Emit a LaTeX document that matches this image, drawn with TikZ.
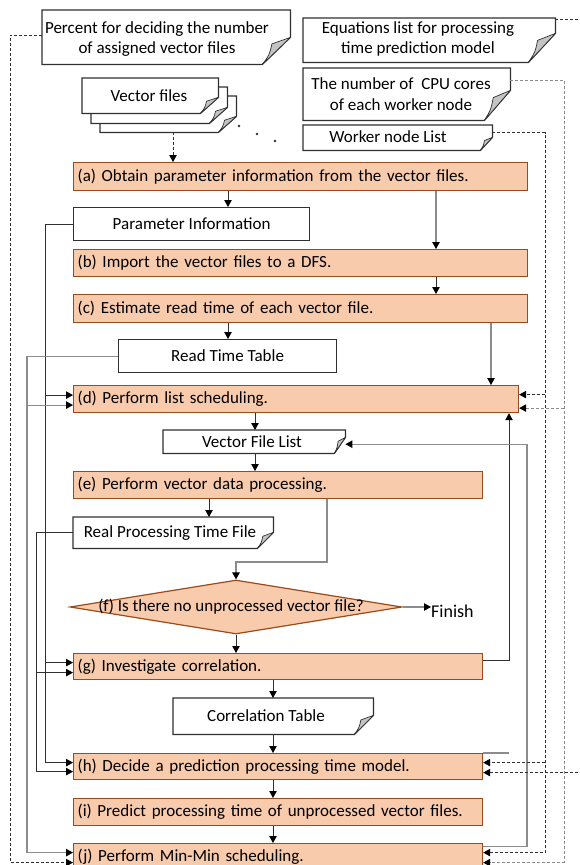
\documentclass[tikz,border=0pt]{standalone}
\usepackage{fontspec}
\setmainfont{Carlito}
\usetikzlibrary{arrows.meta,shapes.geometric}

\definecolor{procfill}{HTML}{F8CBAD}
\definecolor{procedge}{HTML}{9C4A1A}
\definecolor{inkdark}{HTML}{303030}
\definecolor{inkgray}{HTML}{8C8C8C}
\definecolor{foldgray}{HTML}{C4C4C4}

\tikzset{
  lbl/.style={font=\fontsize{17}{20.5}\selectfont, inner sep=0pt, align=center},
  proc/.style={draw=procedge, fill=procfill, line width=1.2pt, inner xsep=4pt,
    inner ysep=0pt, anchor=north west, align=left, font=\fontsize{17}{20.5}\selectfont},
  databox/.style={draw=inkdark, fill=white, line width=1.2pt, anchor=north west,
    inner sep=0pt, align=center, font=\fontsize{17}{20.5}\selectfont},
  docarea/.style={anchor=north west, inner sep=0pt},
  docline/.style={draw=inkdark, fill=white, line width=1.2pt, line join=miter},
  foldpart/.style={draw=inkdark, fill=foldgray, line width=0.7pt, line join=round},
  tipend/.style={-{Triangle[length=7pt,width=7.5pt,color=black,fill=black]}},
  flow/.style={draw=inkdark, line width=0.9pt, tipend},
  flowgray/.style={draw=inkgray, line width=1.1pt, tipend},
  wire/.style={draw=inkdark, line width=0.9pt},
  wiregray/.style={draw=inkgray, line width=1.1pt},
  dep/.style={draw=inkdark, line width=0.8pt, dash pattern=on 3pt off 2pt, tipend},
  depgray/.style={draw=inkgray, line width=0.8pt, dash pattern=on 3pt off 2pt, tipend},
}

% document outline with a folded lower right corner, drawn round an area node
\newcommand\docoutline[3]{%
  \path[docline] (#1.north west) -- (#1.north east) -- ([yshift=#3]#1.south east)
    -- ([xshift=-#2]#1.south east) -- (#1.south west) -- cycle;
  \path[foldpart] ([xshift=-#2]#1.south east)
    .. controls ([xshift={-0.75*#2}, yshift={0.35*#3}]#1.south east) ..
    ([xshift={-0.66*#2}, yshift={0.76*#3}]#1.south east)
    -- ([yshift=#3]#1.south east) -- cycle;
}

\begin{document}
\begin{tikzpicture}[x=1pt,y=-1pt]
\useasboundingbox (0,0) rectangle (579,865);
\clip (0,0) rectangle (579,865);

% ---------- input documents ----------
\node[docarea, minimum width=248pt, minimum height=54pt] (pct) at (42,10) {};
\docoutline{pct}{28pt}{27pt}
\node[lbl] (pct-t) at (157,39) {Percent for deciding the number\\of assigned vector files};

\node[docarea, minimum width=252pt, minimum height=44pt] (eq) at (303,18) {};
\docoutline{eq}{27pt}{29pt}
\node[lbl] (eq-t) at (418,39) {Equations list for processing\\time prediction model};

\node[docarea, minimum width=207pt, minimum height=52pt] (cpu) at (303,68) {};
\docoutline{cpu}{26pt}{30pt}
\node[lbl] (cpu-t) at (401,94) {The number of\ \ CPU cores\\of each worker node};

\node[docarea, minimum width=189pt, minimum height=25pt] (wnl) at (303,125) {};
\docoutline{wnl}{12pt}{13pt}
\node[lbl] (wnl-t) at (388,137) {Worker node List};

% stack of vector files
\node[docarea, minimum width=136pt, minimum height=36pt] (vf3) at (100,96) {};
\docoutline{vf3}{18pt}{16pt}
\node[docarea, minimum width=136pt, minimum height=36pt] (vf2) at (91,87) {};
\docoutline{vf2}{18pt}{16pt}
\node[docarea, minimum width=136pt, minimum height=35pt] (vf) at (82,78) {};
\docoutline{vf}{18pt}{16pt}
\node[lbl] (vf-t) at (149,96) {Vector files};
\fill[inkdark] (239,126) circle (1.3pt) (257,134) circle (1.3pt) (275,141) circle (1.3pt);

% ---------- process steps ----------
\node[proc, text width=446pt, minimum height=28pt] (a) at (73,162)
  {(a) Obtain parameter information from the vector files.};
\node[databox, minimum width=236pt, minimum height=33pt] (pinfo) at (73,207) {Parameter Information};
\node[proc, text width=446pt, minimum height=27pt] (b) at (73,249)
  {(b) Import the vector files to a DFS.};
\node[proc, text width=446pt, minimum height=28pt] (c) at (73,294)
  {(c) Estimate read time of each vector file.};
\node[databox, minimum width=218pt, minimum height=33pt] (rtt) at (118,339) {Read Time Table};
\node[proc, text width=437pt, minimum height=27pt] (d) at (73,385)
  {(d) Perform list scheduling.};

\node[docarea, minimum width=182pt, minimum height=23pt] (vfl) at (163,430) {};
\docoutline{vfl}{11pt}{16pt}
\node[lbl] (vfl-t) at (252,442) {Vector File List};

\node[proc, text width=401pt, minimum height=27pt] (e) at (73,471)
  {(e) Perform vector data processing.};

\node[docarea, minimum width=200pt, minimum height=31pt] (rptf) at (73,517) {};
\docoutline{rptf}{16pt}{16pt}
\node[lbl] (rptf-t) at (170,533) {Real Processing Time File};

\node[diamond, draw=procedge, fill=procfill, line width=1.2pt, inner sep=0pt,
  minimum width=332pt, minimum height=54pt] (f) at (236,607) {};
\node[lbl] (f-t) at (231,607) {(f) Is there no unprocessed vector file?};
\node[lbl, anchor=west, font=\fontsize{18}{21}\selectfont] (fin) at (431,611) {Finish};

\node[proc, text width=401pt, minimum height=26pt] (g) at (73,653)
  {(g) Investigate correlation.};

\node[docarea, minimum width=200pt, minimum height=36pt] (ct) at (173,698) {};
\docoutline{ct}{19pt}{19pt}
\node[lbl] (ct-t) at (266,716) {Correlation Table};

\node[proc, text width=401pt, minimum height=26pt] (h) at (73,753)
  {(h) Decide a prediction processing time model.};
\node[proc, text width=401pt, minimum height=27pt] (i) at (73,798)
  {(i) Predict processing time of unprocessed vector files.};
\node[proc, text width=401pt, minimum height=27pt] (j) at (73,843)
  {(j) Perform Min-Min scheduling.};

% ---------- columns used by the connectors ----------
\coordinate (k173) at (173,0);
\coordinate (k209) at (209,0);
\coordinate (k228) at (228,0);
\coordinate (k255) at (255,0);
\coordinate (k273) at (273,0);
\coordinate (k327) at (327,0);
\coordinate (k436) at (436,0);
\coordinate (k491) at (491,0);
\coordinate (kP) at (45,0);
\coordinate (kT) at (36,0);
\coordinate (kR) at (27,0);
\coordinate (kD) at (10,0);
\coordinate (kL1) at (509,0);
\coordinate (kL2) at (527,0);
\coordinate (kW) at (545,0);
\coordinate (kC) at (564,0);
\coordinate (kE) at (600,0);
\coordinate (ef) at (236,562);

% entry points on the step boxes
\coordinate (dP) at ([yshift=4pt]d.west);
\coordinate (dR) at ([yshift=-6pt]d.west);
\coordinate (gP) at ([yshift=4pt]g.west);
\coordinate (gT) at ([yshift=-6pt]g.west);
\coordinate (hP) at ([yshift=4pt]h.west);
\coordinate (hT) at ([yshift=-5pt]h.west);
\coordinate (jR) at ([yshift=4.5pt]j.west);
\coordinate (jD) at ([yshift=-5.5pt]j.west);
\coordinate (dW) at ([yshift=4.5pt]d.east);
\coordinate (dC) at ([yshift=-9pt]d.east);
\coordinate (hW) at ([yshift=4pt]h.east);
\coordinate (hE) at ([yshift=-6pt]h.east);
\coordinate (jW) at ([yshift=4.5pt]j.east);
\coordinate (jC) at ([yshift=-5.5pt]j.east);
\coordinate (vflin) at ([yshift=-2.5pt]vfl.east);

% ---------- main flow ----------
\draw[dep] (vf3.south -| k173) -- (a.north -| k173);
\draw[flow] (a.south -| k228) -- (pinfo.north -| k228);
\draw[flowgray] (a.south -| k436) -- (b.north -| k436);
\draw[flow] (b.south -| k436) -- (c.north -| k436);
\draw[flow] (c.south -| k228) -- (rtt.north -| k228);
\draw[flowgray] (c.south -| k491) -- (d.north -| k491);
\draw[flow] (d.south -| k255) -- (vfl.north -| k255);
\draw[flow] (vfl.south -| k255) -- (e.north -| k255);
\draw[flow] (e.south -| k209) -- (rptf.north -| k209);
\draw[flowgray] (e.south -| k327) |- (ef) -- (f.north);
\draw[flowgray] (f.east) -- (f.east -| fin.west);
\draw[flow] (f.south) -- (f.south |- g.north);
\draw[flow] (g.south -| k273) -- (ct.north -| k273);
\draw[flow] (ct.south -| k273) -- (h.north -| k273);
\draw[flow] (h.south -| k273) -- (i.north -| k273);
\draw[flow] (i.south -| k273) -- (j.north -| k273);

% ---------- feedback on the left ----------
\draw[flow] (pinfo.west) -| (kP |- hP) -- (hP);
\draw[flow] (kP |- dP) -- (dP);
\draw[flow] (kP |- gP) -- (gP);
\draw[flowgray] (rtt.west) -| (kR |- jR) -- (jR);
\draw[flowgray] (kR |- dR) -- (dR);
\draw[flow] (rptf.west) -| (kT |- hT) -- (hT);
\draw[flow] (kT |- gT) -- (gT);
\draw[dep] ([yshift=2pt]pct.west) -| (kD |- jD) -- (jD);

% ---------- loops and inputs on the right ----------
\draw[flow] ([yshift=6pt]g.east) -| (d.south -| kL1);
\draw[flowgray] ([yshift=10.5pt]j.east) -| (kL2 |- vflin) -- (vflin);
\draw[wiregray] (h.north east) -- (h.north east -| kL1);

\draw[dep] ([yshift=5pt]wnl.east) -| (kW |- jW) -- (jW);
\draw[dep] (kW |- dW) -- (dW);
\draw[dep] (kW |- hW) -- (hW);
\draw[depgray] ([yshift=-12pt]cpu.north east) -| (kC |- jC) -- (jC);
\draw[depgray] (kC |- dC) -- (dC);
\draw[dep] ([yshift=-1pt]eq.north east) -| (kE |- hE) -- (hE);
\end{tikzpicture}
\end{document}
